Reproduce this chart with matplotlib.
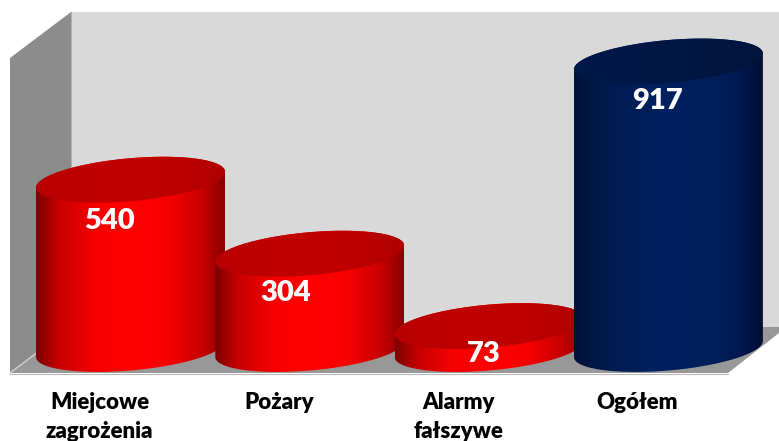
import numpy as np
import matplotlib

matplotlib.use('Agg')
import matplotlib.pyplot as plt
from matplotlib.colors import LinearSegmentedColormap
from matplotlib.patches import Polygon

categories = ['Miejcowe\nzagrożenia', 'Pożary', 'Alarmy\nfałszywe', 'Ogółem']
values = [540, 304, 73, 917]

# label offsets from the top centre of each cylinder, pixels
label_dx = [-21, -24, -5, -11]
label_dy = [-41, -39, -28, -39]

red_side = LinearSegmentedColormap.from_list('red_side', [
    (0, '#7c0000'), (0.12, '#c80000'), (0.3, '#f40000'), (0.45, '#ff0000'),
    (0.7, '#f80000'), (0.88, '#c80000'), (1, '#8a0000')])
red_top = LinearSegmentedColormap.from_list('red_top', ['#b80000', '#c00000', '#c00000', '#b00000'])
blue_side = LinearSegmentedColormap.from_list('blue_side', [
    (0, '#00123a'), (0.15, '#001a4c'), (0.45, '#002060'),
    (0.75, '#001f5c'), (0.9, '#00174a'), (1, '#001034')])
blue_top = LinearSegmentedColormap.from_list('blue_top', ['#00184a', '#001848', '#001642', '#00143c'])
side_maps = [red_side, red_side, red_side, blue_side]
top_maps = [red_top, red_top, red_top, blue_top]

fig = plt.figure(figsize=(7.79, 4.41), dpi=100, facecolor='white')

# box behind the chart, in pixels
bg = fig.add_axes([0, 0, 1, 1])
bg.set_xlim(0, 779)
bg.set_ylim(441, 0)
bg.axis('off')
bg.add_patch(Polygon([(71, 12), (779, 12), (779, 327), (71, 327)], fc='#d9d9d9', ec='none'))
bg.add_patch(Polygon([(10, 58), (71, 12), (71, 327), (10, 373)], fc='#8c8c8c', ec='none'))
bg.add_patch(Polygon([(10, 373), (71, 327), (779, 327), (779, 333), (728, 373)], fc='#989898', ec='none'))
bg.plot([10, 71], [373, 327], color='#d0d0d0', lw=1)
bg.plot([10, 728], [373.5, 373.5], color='#b8b8b8', lw=0.8)
bg.plot([71, 71], [12, 327], color='#b0b0b0', lw=0.8)

# data axes: one category = 179.3 px, one unit of value = 0.3135 px
ax = fig.add_axes([0, 0, 1, 1])
ax.patch.set_alpha(0)
ax.axis('off')
xlim = (-130.5 / 179.3, (779 - 130.5) / 179.3)
ylim = (-(441 - 349) / 0.3135, 349 / 0.3135)

half_w = 0.527
ry = 68.6
tilt = 25.5
t = np.linspace(0, 2 * np.pi, 200)
grad = np.linspace(0, 1, 256).reshape(1, -1)

for i, v in enumerate(values):
    ex = i + half_w * np.cos(t)
    ey = tilt * np.cos(t) + ry * np.sin(t)
    lower = t >= np.pi
    # silhouette: top half of the top ellipse plus bottom half of the base ellipse
    body = np.column_stack([
        np.r_[ex[~lower], ex[lower]],
        np.r_[ey[~lower] + v, ey[lower]],
    ])
    side = ax.imshow(grad, cmap=side_maps[i], aspect='auto', zorder=2 + i,
                     extent=(i - half_w, i + half_w, -120, v + 120))
    side.set_clip_path(Polygon(body, transform=ax.transData))
    top = ax.imshow(grad, cmap=top_maps[i], aspect='auto', zorder=2 + i,
                    extent=(i - half_w, i + half_w, v - 120, v + 120))
    top.set_clip_path(Polygon(np.column_stack([ex, ey + v]), transform=ax.transData))
    ax.annotate(str(v), xy=(i, v), xytext=(label_dx[i], label_dy[i]),
                textcoords='offset pixels', ha='center', va='center',
                color='white', fontsize=21, fontweight='heavy', family='Lato', zorder=20)
    ax.annotate(categories[i], xy=(i, 0), xytext=(-31, -43), textcoords='offset pixels',
                ha='center', va='top', color='black', fontsize=16, fontweight='heavy',
                family='Lato', linespacing=1.45, annotation_clip=False, zorder=20)

ax.set_xlim(*xlim)
ax.set_ylim(*ylim)

fig.savefig('out.png', dpi=100)
